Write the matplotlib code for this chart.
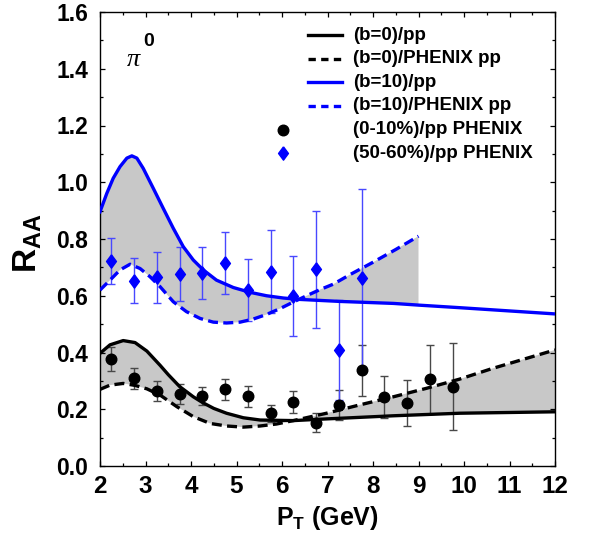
import matplotlib
matplotlib.use('Agg')
import matplotlib.pyplot as plt
from matplotlib.ticker import MultipleLocator
import numpy as np

# ---------------- data ----------------
# theory curves: (b=0)/pp  solid black
pt_b0_pp = [2.0, 2.22, 2.51, 2.77, 3.03, 3.32, 3.50, 3.75, 4.05, 4.25, 4.50, 4.78,
            5.15, 5.52, 6.25, 6.98, 8.45, 9.91, 12.0]
r_b0_pp = [0.397, 0.427, 0.442, 0.435, 0.405, 0.355, 0.322, 0.280, 0.244, 0.224, 0.203, 0.186,
           0.170, 0.162, 0.160, 0.166, 0.177, 0.186, 0.191]
# (b=0)/PHENIX pp  dashed black
pt_b0_ph = [2.0, 2.22, 2.51, 2.77, 3.03, 3.32, 3.69, 4.05, 4.42, 4.78, 5.15, 5.52, 5.88,
            6.25, 6.98, 7.70, 8.45, 9.18, 9.90, 10.63, 12.0]
r_b0_ph = [0.270, 0.285, 0.291, 0.284, 0.272, 0.250, 0.209, 0.174, 0.150, 0.141, 0.137, 0.141, 0.148,
           0.160, 0.186, 0.215, 0.244, 0.274, 0.306, 0.344, 0.409]
# (b=10)/pp  solid blue
pt_b10_pp = [2.0, 2.15, 2.29, 2.44, 2.59, 2.70, 2.81, 2.95, 3.17, 3.39, 3.61, 3.83, 4.05,
             4.27, 4.56, 4.93, 5.30, 5.66, 6.03, 6.40, 7.27, 8.45, 9.0, 9.9, 12.0]
r_b10_pp = [0.896, 0.961, 1.014, 1.055, 1.085, 1.093, 1.085, 1.049, 0.979, 0.908, 0.838, 0.773, 0.726,
            0.691, 0.655, 0.629, 0.612, 0.600, 0.592, 0.587, 0.580, 0.573, 0.567, 0.558, 0.536]
# (b=10)/PHENIX pp  dashed blue
pt_b10_ph = [2.0, 2.22, 2.44, 2.66, 2.88, 3.10, 3.32, 3.61, 3.90, 4.20, 4.49, 4.78, 5.08,
             5.37, 5.66, 5.96, 6.25, 6.54, 6.84, 7.13, 7.50, 8.00, 8.50, 9.0]
r_b10_ph = [0.620, 0.655, 0.691, 0.711, 0.696, 0.667, 0.632, 0.579, 0.544, 0.520, 0.507, 0.504, 0.507,
            0.518, 0.534, 0.555, 0.578, 0.600, 0.622, 0.641, 0.675, 0.718, 0.763, 0.810]

# PHENIX data (0-10%)/pp
pt_c0 = [2.25, 2.75, 3.25, 3.75, 4.25, 4.75, 5.25, 5.75, 6.25, 6.75, 7.25, 7.75, 8.25, 8.75, 9.25, 9.75]
r_c0 = [0.377, 0.309, 0.265, 0.254, 0.247, 0.271, 0.247, 0.186, 0.226, 0.150, 0.215, 0.337,
        0.243, 0.222, 0.306, 0.280]
hi_c0 = [0.421, 0.346, 0.301, 0.289, 0.280, 0.308, 0.283, 0.216, 0.264, 0.187, 0.269, 0.428,
         0.316, 0.303, 0.428, 0.432]
lo_c0 = [0.335, 0.271, 0.230, 0.217, 0.214, 0.234, 0.209, 0.155, 0.186, 0.120, 0.162, 0.247,
         0.168, 0.141, 0.184, 0.127]
# PHENIX data (50-60%)/pp
pt_c5 = [2.25, 2.75, 3.25, 3.75, 4.25, 4.75, 5.25, 5.75, 6.25, 6.75, 7.25, 7.75]
r_c5 = [0.724, 0.653, 0.667, 0.676, 0.681, 0.716, 0.620, 0.685, 0.599, 0.694, 0.409, 0.663]
hi_c5 = [0.805, 0.734, 0.753, 0.773, 0.773, 0.826, 0.728, 0.832, 0.741, 0.900, 0.585, 0.976]
lo_c5 = [0.640, 0.573, 0.576, 0.580, 0.587, 0.606, 0.511, 0.538, 0.458, 0.487, 0.233, 0.350]

legend_labels = ['(b=0)/pp', '(b=0)/PHENIX pp', '(b=10)/pp', '(b=10)/PHENIX pp',
                 '(0-10%)/pp PHENIX', '(50-60%)/pp PHENIX']
x_ticks = list(range(2, 13))
y_ticks = [0.0, 0.2, 0.4, 0.6, 0.8, 1.0, 1.2, 1.4, 1.6]

# ---------------- style ----------------
plt.rcParams['font.family'] = ['Liberation Sans', 'DejaVu Sans']
plt.rcParams['font.weight'] = 'bold'
plt.rcParams['mathtext.fontset'] = 'custom'
plt.rcParams['mathtext.rm'] = 'Liberation Sans:bold'
plt.rcParams['mathtext.bf'] = 'Liberation Sans:bold'
plt.rcParams['mathtext.it'] = 'Liberation Sans:italic:bold'

BLUE = '#0000ff'
GRAY = '#c8c8c8'
LW = 2.4
DASH = (3.0, 1.6)
CIRC_MS = 7.6
DIAM_MS = 9.6

fig = plt.figure(figsize=(5.9, 5.36), dpi=100)
ax = fig.add_axes([100 / 590, 1 - 466 / 536, 455 / 590, 454 / 536])

# shaded bands
ax.fill(np.r_[pt_b0_pp, pt_b0_ph[::-1]], np.r_[r_b0_pp, r_b0_ph[::-1]],
        color=GRAY, lw=0, zorder=1)
m = np.array(pt_b10_pp) <= max(pt_b10_ph)
ax.fill(np.r_[np.array(pt_b10_pp)[m], pt_b10_ph[::-1]],
        np.r_[np.array(r_b10_pp)[m], r_b10_ph[::-1]],
        color=GRAY, lw=0, zorder=1)

# error bars
r_c0a, r_c5a = np.array(r_c0), np.array(r_c5)
ax.errorbar(pt_c0, r_c0, yerr=[r_c0a - np.array(lo_c0), np.array(hi_c0) - r_c0a],
            fmt='none', ecolor='#484848', elinewidth=1.0, capsize=3.2, capthick=1.0, zorder=2)
ax.errorbar(pt_c5, r_c5, yerr=[r_c5a - np.array(lo_c5), np.array(hi_c5) - r_c5a],
            fmt='none', ecolor='#4848ff', elinewidth=1.0, capsize=3.2, capthick=1.0, zorder=2)

# curves
ax.plot(pt_b0_pp, r_b0_pp, color='black', lw=LW, zorder=3, solid_joinstyle='round')
ax.plot(pt_b0_ph, r_b0_ph, color='black', lw=LW, dashes=DASH, zorder=3)
ax.plot(pt_b10_pp, r_b10_pp, color=BLUE, lw=LW, zorder=3, solid_joinstyle='round')
ax.plot(pt_b10_ph, r_b10_ph, color=BLUE, lw=LW, dashes=DASH, zorder=3)

# data markers
diamond = [(0, 1), (0.74, 0), (0, -1), (-0.74, 0), (0, 1)]
ax.plot(pt_c0, r_c0, 'o', color='black', ms=CIRC_MS, zorder=4)
ax.plot(pt_c5, r_c5, marker=diamond, ls='none', color=BLUE, ms=DIAM_MS, zorder=4)

# axes
ax.set_xlim(2, 12)
ax.set_ylim(0, 1.6)
ax.set_xticks(x_ticks)
ax.set_yticks(y_ticks)
ax.set_yticklabels([f'{v:.1f}' for v in y_ticks])
ax.xaxis.set_minor_locator(MultipleLocator(0.5))
ax.yaxis.set_minor_locator(MultipleLocator(0.1))
ax.tick_params(which='both', direction='in', top=True, right=True, width=0.9)
ax.tick_params(which='major', length=3.3)
ax.tick_params(which='minor', length=2.0)
ax.tick_params(axis='x', which='major', labelsize=17.5, pad=6.5)
ax.tick_params(axis='y', which='major', labelsize=16.5, pad=8.5)
for lab in ax.get_xticklabels() + ax.get_yticklabels():
    lab.set_fontweight('bold')
for s in ax.spines.values():
    s.set_linewidth(1.0)

ax.text(0.5, -0.130, r'P$_{\mathrm{T}}$ (GeV)', transform=ax.transAxes,
        ha='center', va='baseline', fontsize=18, fontweight='bold')
ax.text(-0.158, 0.491, r'R$_{\mathrm{AA}}$', transform=ax.transAxes, rotation=90,
        ha='center', va='center', fontsize=24, fontweight='bold')

# pi^0 label
ax.text(0.0725, 0.882, '\u03c0', transform=ax.transAxes, ha='center', va='baseline',
        fontsize=19, family=['Liberation Serif', 'DejaVu Serif'], style='italic',
        fontweight='normal')
ax.text(0.094, 0.925, '0', transform=ax.transAxes, ha='left', va='baseline',
        fontsize=14, fontweight='bold')

# manual legend
row_y = [0.949, 0.897, 0.845, 0.793, 0.741, 0.689]
hx0, hx1, tx, mx = 0.458, 0.531, 0.556, 0.402
styles = [('black', None), ('black', DASH), (BLUE, None), (BLUE, DASH)]
for i, (c, d) in enumerate(styles):
    kw = dict(color=c, lw=LW, transform=ax.transAxes, clip_on=False)
    if d is not None:
        kw['dashes'] = (2.2, 1.6)
    ax.plot([hx0, hx1], [row_y[i], row_y[i]], **kw)
ax.plot([mx], [row_y[4]], 'o', color='black', ms=CIRC_MS, transform=ax.transAxes, clip_on=False)
ax.plot([mx], [row_y[5]], marker=diamond, ls='none', color=BLUE, ms=DIAM_MS,
        transform=ax.transAxes, clip_on=False)
for i, lab in enumerate(legend_labels):
    ax.text(tx, row_y[i], lab, transform=ax.transAxes, ha='left', va='center',
            fontsize=13.5, fontweight='bold')

fig.savefig('out.png', dpi=100, facecolor='white')
